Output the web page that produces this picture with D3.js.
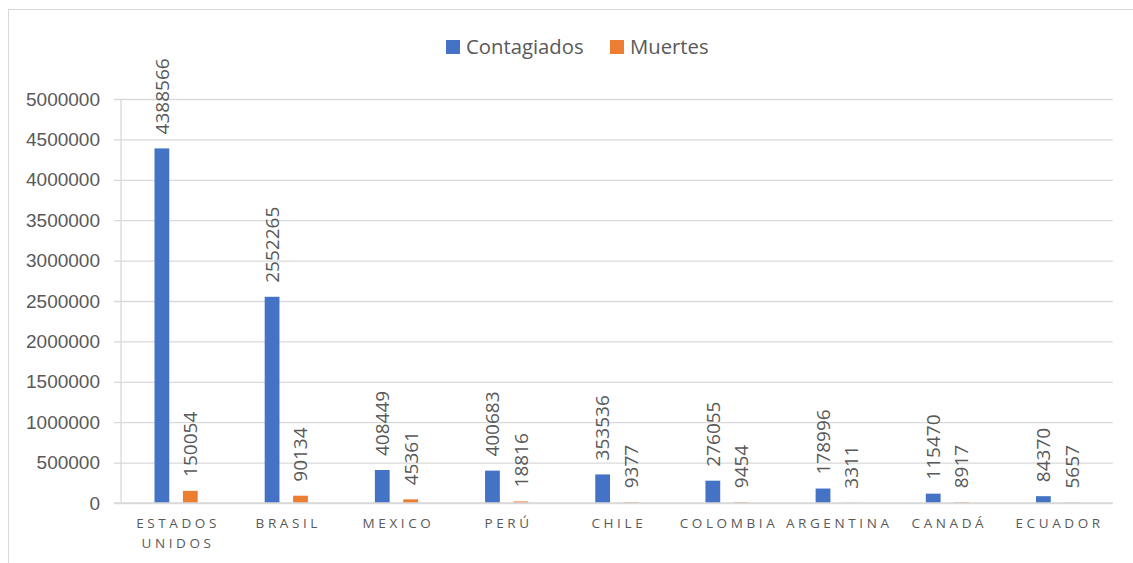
<!DOCTYPE html>
<html><head><meta charset="utf-8">
<script src="https://cdn.jsdelivr.net/npm/d3@7"></script>
<style>body{margin:0;background:#fff;} svg{display:block;font-family:"Open Sans",sans-serif;}</style>
</head><body><svg id="c" width="1133" height="563"></svg>
<script>
const categories = ["ESTADOS UNIDOS","BRASIL","MEXICO","PERÚ","CHILE","COLOMBIA","ARGENTINA","CANADÁ","ECUADOR"];
const contagiados = [4388566,2552265,408449,400683,353536,276055,178996,115470,84370];
const muertes = [150054,90134,45361,18816,9377,9454,3311,8917,5657];
const seriesNames = ["Contagiados","Muertes"];
const yTicks = [0,500000,1000000,1500000,2000000,2500000,3000000,3500000,4000000,4500000,5000000];

const colors = {Contagiados:"#4472C4", Muertes:"#ED7D31"};
const svg = d3.select("#c");
const W=1133,H=563;
const m = {left:121, right:1112.7, top:99, bottom:503};

// chart border
svg.append("rect").attr("x",8.5).attr("y",9.5).attr("width",W+10).attr("height",H+10)
  .attr("fill","none").attr("stroke","#d9d9d9").attr("stroke-width",1);

const x0 = d3.scaleBand().domain(categories).range([m.left,m.right]).padding(0);
const x1 = d3.scaleBand().domain(seriesNames).range([33.5, x0.bandwidth()-33.5]).paddingInner(0.48);
const y = d3.scaleLinear().domain([0,5000000]).range([m.bottom,m.top]);

// gridlines
const yAxis = d3.axisLeft(y).tickValues(yTicks).tickSize(-(m.right-m.left)).tickFormat(d=>String(d)).tickPadding(14);
const ga = svg.append("g").attr("transform",`translate(${m.left},0)`).call(yAxis);
ga.select(".domain").remove();
ga.selectAll(".tick line").attr("stroke","#d9d9d9").attr("stroke-width",1.3).attr("x1",-7);
ga.selectAll(".tick text").attr("fill","#595959").style("font-size","19px").attr("x",-21);
// vertical axis line
svg.append("line").attr("x1",m.left).attr("x2",m.left).attr("y1",m.top).attr("y2",m.bottom)
  .attr("stroke","#d9d9d9").attr("stroke-width",1.3);

const data = categories.map((c,i)=>({cat:c, vals:[{s:"Contagiados",v:contagiados[i]},{s:"Muertes",v:muertes[i]}]}));
const groups = svg.append("g").selectAll("g").data(data).join("g")
  .attr("transform",d=>`translate(${x0(d.cat)},0)`);
groups.selectAll("rect").data(d=>d.vals).join("rect")
  .attr("x",d=>x1(d.s)).attr("width",x1.bandwidth())
  .attr("y",d=>y(d.v)).attr("height",d=>m.bottom-y(d.v))
  .attr("fill",d=>colors[d.s]);
groups.selectAll("text").data(d=>d.vals).join("text")
  .attr("transform",d=>`translate(${x1(d.s)+x1.bandwidth()/2},${y(d.v)-14}) rotate(-90)`)
  .attr("dy","0.36em").attr("text-anchor","start")
  .attr("fill","#595959").style("font-size","19px")
  .text(d=>d.v);

// baseline
svg.append("line").attr("x1",m.left-7).attr("x2",m.right).attr("y1",m.bottom).attr("y2",m.bottom)
  .attr("stroke","#d9d9d9").attr("stroke-width",1.3);

// category labels
const cl = svg.append("g").selectAll("text").data(categories).join("text")
  .attr("text-anchor","middle").attr("fill","#595959")
  .style("font-size","13.5px").style("letter-spacing","3.6px")
  .attr("y",528);
cl.each(function(d){
  const t=d3.select(this);
  const cx = x0(d)+x0.bandwidth()/2 + 2;
  const words = d.split(" ");
  words.forEach((w,i)=>t.append("tspan").attr("x",cx).attr("dy",i===0?0:"1.45em").text(w));
});

// legend
const leg = [{s:"Contagiados",x:446,tx:466},{s:"Muertes",x:610,tx:630}];
leg.forEach(l=>{
  svg.append("rect").attr("x",l.x).attr("y",40).attr("width",14).attr("height",14).attr("fill",colors[l.s]);
  svg.append("text").attr("x",l.tx).attr("y",47).attr("dy","0.35em").attr("fill","#595959")
    .style("font-size","20.3px").text(l.s);
});
</script></body></html>
